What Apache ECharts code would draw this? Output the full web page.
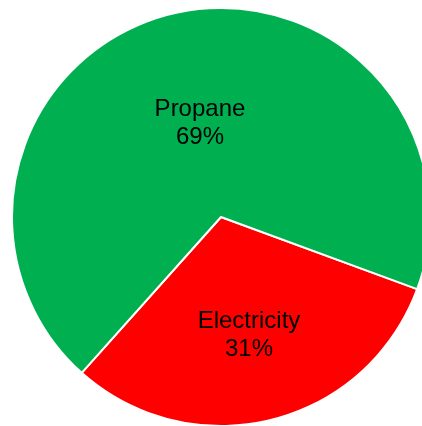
<!DOCTYPE html>
<html>
<head>
<meta charset="utf-8">
<script src="https://cdn.jsdelivr.net/npm/echarts@6/dist/echarts.min.js"></script>
<style>
html, body { margin: 0; padding: 0; background: #fff; }
#chart { width: 422px; height: 426px; }
</style>
</head>
<body>
<div id="chart"></div>
<script>
const categories = ['Electricity', 'Propane']
const values = [31, 69]
const colors = ['#FF0000', '#00B050']
const labelOffsets = [[2, 14], [5, 11]]

const chart = echarts.init(document.getElementById('chart'))

const option = {
	backgroundColor: '#fff',
	animation: false,
	series: [
		{
			type: 'pie',
			center: [221, 217],
			radius: 209,
			startAngle: -20.2,
			clockwise: true,
			itemStyle: {
				borderColor: '#fff',
				borderWidth: 2
			},
			label: {
				show: true,
				position: 'inside',
				color: '#000',
				fontFamily: 'Arial, "Liberation Sans", sans-serif',
				fontSize: 24,
				lineHeight: 28,
				formatter: '{b}\n{c}%'
			},
			labelLine: { show: false },
			emphasis: { disabled: true },
			data: categories.map((name, i) => ({
				name,
				value: values[i],
				itemStyle: { color: colors[i] },
				label: { offset: labelOffsets[i] }
			}))
		}
	]
}

chart.setOption(option, true)
</script>
</body>
</html>
